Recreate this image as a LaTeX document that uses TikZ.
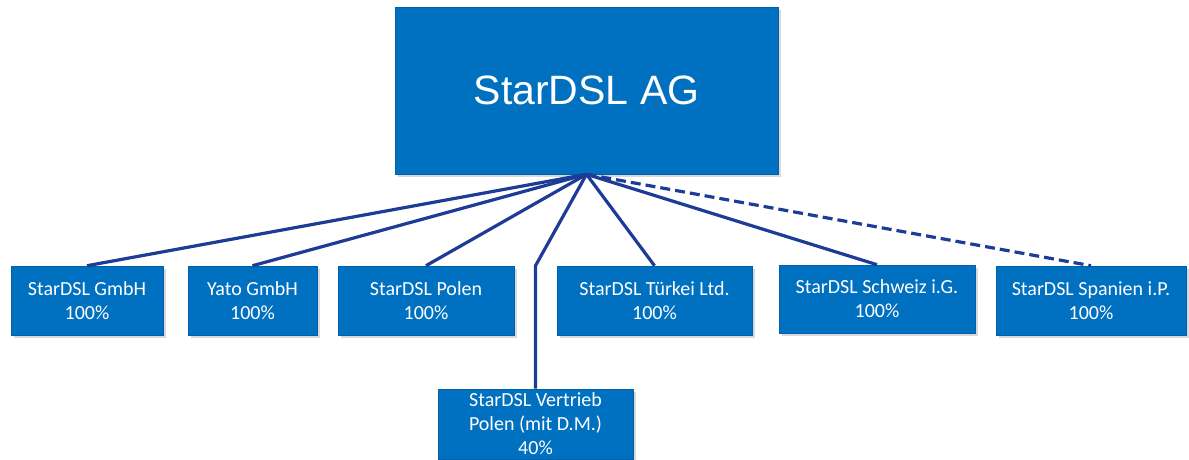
\documentclass[tikz,border=0pt]{standalone}
\usepackage{fontspec}
\setmainfont{Carlito}
\newfontfamily\titlefont{Liberation Sans}
\usetikzlibrary{shadows}
\definecolor{boxblue}{RGB}{0,112,192}
\definecolor{boxedge}{RGB}{0,96,170}
\definecolor{linkblue}{RGB}{28,60,150}
\begin{document}
\begin{tikzpicture}[x=1pt,y=-1pt,
  box/.style={draw=boxedge, line width=0.6pt, fill=boxblue, text=white, align=center,
    inner sep=0pt, font=\fontsize{20}{24}\selectfont,
    drop shadow={opacity=0.3, shadow xshift=2.5pt, shadow yshift=-2.5pt}},
  link/.style={draw=linkblue, line width=3.2pt}]
\useasboundingbox (0,0) rectangle (1189,459);

\node[box, minimum width=383pt, minimum height=167pt, font=\titlefont\fontsize{41}{48}\selectfont] (ag) at (586.5,90.5) {StarDSL AG};
\coordinate (hub) at (ag.south);

\node[box, minimum width=152pt, minimum height=69pt] (gmbh) at (87,300.5) {StarDSL GmbH\\100\%};
\node[box, minimum width=129pt, minimum height=69pt] (yato) at (252.5,300.5) {Yato GmbH\\100\%};
\node[box, minimum width=176pt, minimum height=69pt] (polen) at (426,300.5) {StarDSL Polen\\100\%};
\node[box, minimum width=195pt, minimum height=69pt] (tuerkei) at (654.5,300.5) {StarDSL Türkei Ltd.\\100\%};
\node[box, minimum width=196pt, minimum height=68pt] (schweiz) at (877,299) {StarDSL Schweiz i.G.\\100\%};
\node[box, minimum width=190pt, minimum height=69pt] (spanien) at (1091,300.5) {StarDSL Spanien i.P.\\100\%};
\node[box, minimum width=195pt, minimum height=70pt] (vertrieb) at (535.5,424) {StarDSL Vertrieb\\Polen (mit D.M.)\\40\%};

\path[link] (hub) -- (gmbh.north);
\path[link] (hub) -- (yato.north);
\path[link] (hub) -- (polen.north);
\path[link] (hub) -- (vertrieb.north |- polen.north) -- (vertrieb.north);
\path[link] (hub) -- (tuerkei.north);
\path[link] (hub) -- (schweiz.north);
\path[link, dash pattern=on 10pt off 5pt] (hub) -- (spanien.north);
\end{tikzpicture}
\end{document}
